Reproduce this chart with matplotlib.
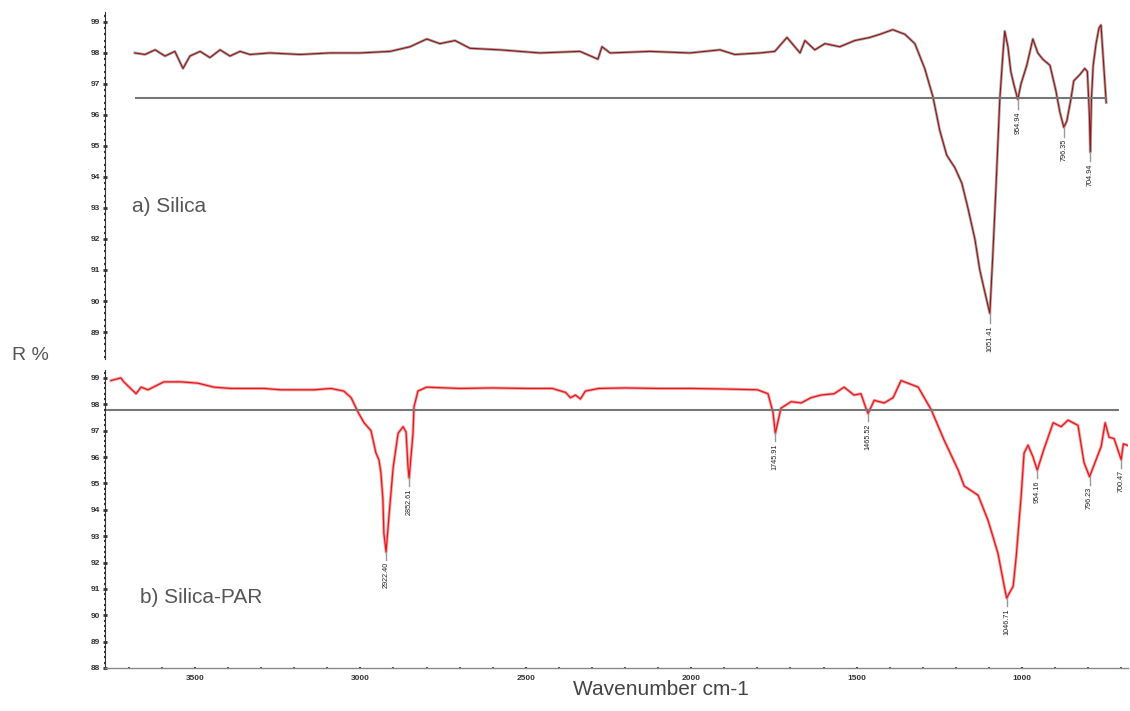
import matplotlib
matplotlib.use('Agg')
import matplotlib.pyplot as plt
from matplotlib.ticker import MultipleLocator

plt.rcParams['font.family'] = ['Liberation Sans', 'DejaVu Sans']

# a) Silica - wavenumber (cm-1) and R %
silica_wn = [4000, 3965, 3930, 3896, 3862, 3834, 3810, 3775, 3741, 3706, 3672,
             3637, 3603, 3534, 3430, 3327, 3224, 3120, 3051, 2993, 2948, 2896,
             2844, 2741, 2603, 2465, 2403, 2389, 2361, 2224, 2086, 1982, 1931,
             1844, 1793, 1751, 1724, 1706, 1689, 1655, 1620, 1569, 1517, 1465,
             1431, 1386, 1344, 1310, 1276, 1248, 1224, 1200, 1172, 1148, 1127,
             1103, 1086, 1069, 1051.41, 1041, 1031, 1017, 1006, 1000, 989, 979,
             969, 954.94, 944, 924, 903, 886, 869, 844, 824, 810, 796.35, 786,
             772, 762, 741, 724, 715, 708, 704.94, 701, 695, 685, 675, 668, 650]
silica_R = [98.0, 97.95, 98.1, 97.9, 98.05, 97.5, 97.9, 98.05, 97.85, 98.1, 97.9,
            98.05, 97.95, 98.0, 97.95, 98.0, 98.0, 98.05, 98.2, 98.45, 98.3, 98.4,
            98.15, 98.1, 98.0, 98.05, 97.8, 98.2, 98.0, 98.05, 98.0, 98.1, 97.95,
            98.0, 98.05, 98.5, 98.2, 98.0, 98.4, 98.1, 98.3, 98.2, 98.4, 98.5,
            98.6, 98.75, 98.6, 98.3, 97.5, 96.6, 95.5, 94.7, 94.3, 93.8, 93.0,
            92.0, 91.0, 90.3, 89.6, 91.5, 93.5, 96.5, 98.0, 98.7, 98.2, 97.4,
            97.0, 96.5, 97.0, 97.6, 98.45, 98.0, 97.8, 97.6, 96.8, 96.1, 95.6, 95.8,
            96.5, 97.1, 97.3, 97.5, 97.4, 96.0, 94.8, 96.5, 97.6, 98.3, 98.8, 98.9, 96.4]
silica_peaks = [1051.41, 954.94, 796.35, 704.94]
silica_baseline = 96.55

# b) Silica-PAR
par_wn = [3754, 3724, 3715, 3678, 3663, 3642, 3594, 3542, 3491, 3443, 3391,
          3340, 3291, 3240, 3189, 3140, 3089, 3050, 3028, 3007, 2989, 2968,
          2953, 2944, 2938, 2932, 2929, 2922.40, 2914, 2901, 2886, 2871, 2862,
          2856, 2852.61, 2841, 2838, 2826, 2800, 2700, 2600, 2500, 2420, 2380,
          2365, 2350, 2335, 2320, 2280, 2200, 2100, 2000, 1900, 1800, 1768,
          1753, 1745.91, 1735, 1729, 1698, 1668, 1638, 1608, 1568, 1538, 1508,
          1487, 1472, 1465.52, 1447, 1417, 1390, 1375, 1366, 1345, 1314, 1275,
          1236, 1193, 1175, 1133, 1103, 1073, 1054, 1046.71, 1027, 1018, 1003,
          994, 982, 967, 954.16, 934, 906, 882, 861, 831, 813, 796.23, 761,
          749, 737, 722, 700.47, 694, 671]
par_R = [98.9, 99.0, 98.85, 98.4, 98.65, 98.55, 98.85, 98.85, 98.8, 98.65, 98.6,
         98.6, 98.6, 98.55, 98.55, 98.55, 98.6, 98.5, 98.25, 97.7, 97.3, 97.0,
         96.15, 95.9, 95.4, 94.4, 93.1, 92.4, 93.7, 95.6, 96.9, 97.15, 96.95,
         95.6, 95.2, 96.9, 97.9, 98.5, 98.65, 98.6, 98.62, 98.6, 98.6, 98.45,
         98.25, 98.35, 98.2, 98.5, 98.6, 98.62, 98.6, 98.6, 98.58, 98.55, 98.4,
         97.7, 96.9, 97.5, 97.85, 98.1, 98.05, 98.25, 98.35, 98.4, 98.65, 98.35,
         98.4, 97.85, 97.65, 98.15, 98.05, 98.25, 98.65, 98.9, 98.8, 98.65, 97.8,
         96.65, 95.5, 94.9, 94.55, 93.6, 92.35, 91.1, 90.65, 91.1, 92.2, 94.5,
         96.15, 96.45, 96.0, 95.5, 96.3, 97.3, 97.15, 97.4, 97.2, 95.8, 95.25, 96.4,
         97.3, 96.75, 96.7, 95.9, 96.5, 96.4]
par_peaks = [2922.40, 2852.61, 1745.91, 1465.52, 1046.71, 954.16, 796.23, 700.47]
par_baseline = 97.77

fig = plt.figure(figsize=(11.3, 7.11), dpi=100)
ax_top = fig.add_axes([0.0929, 0.4951, 0.9053, 0.4880])
ax_bot = fig.add_axes([0.0929, 0.0605, 0.9053, 0.4191])


def style_axis(ax, show_x):
    for s in ['top', 'right']:
        ax.spines[s].set_visible(False)
    ax.spines['left'].set_color('#333333')
    ax.spines['left'].set_linewidth(0.8)
    ax.yaxis.set_major_locator(MultipleLocator(1))
    ax.yaxis.set_minor_locator(MultipleLocator(0.2))
    ax.tick_params(axis='y', which='major', length=3, width=2, direction='inout',
                   labelsize=6, colors='#333333', pad=2)
    ax.tick_params(axis='y', which='minor', length=2, width=1.6, direction='inout',
                   colors='#333333')
    if show_x:
        ax.spines['bottom'].set_color('#888888')
        ax.spines['bottom'].set_linewidth(1)
        ax.xaxis.set_major_locator(MultipleLocator(500))
        ax.xaxis.set_minor_locator(MultipleLocator(100))
        ax.tick_params(axis='x', which='major', length=2, width=1.5, direction='inout',
                       labelsize=6, colors='#333333', pad=4)
        ax.tick_params(axis='x', which='minor', length=2, width=1.5, direction='inout',
                       colors='#555555')
    else:
        ax.spines['bottom'].set_visible(False)
        ax.set_xticks([])
    for lab in ax.get_yticklabels() + ax.get_xticklabels():
        lab.set_fontweight('bold')


def label_peaks(ax, wn, R, peaks):
    for p in peaks:
        y = R[wn.index(p)]
        ax.plot([p, p], [y, y - 0.3], color='#999999', lw=1)
        ax.text(p, y - 0.38, f'{p:.2f}', rotation=90, ha='center', va='top',
                fontsize=5.2, color='#222222')


# top panel
ax_top.plot(silica_wn, silica_R, color='#a8a8a8', lw=2.0)
ax_top.plot(silica_wn, silica_R, color='#9b1111', lw=0.8)
ax_top.hlines(silica_baseline, silica_wn[0], silica_wn[-1], color='#777777', lw=1.5)
label_peaks(ax_top, silica_wn, silica_R, silica_peaks)
ax_top.set_xlim(4103, 575)
ax_top.set_ylim(88.13, 99.32)
style_axis(ax_top, False)

# bottom panel
ax_bot.plot(par_wn, par_R, color='#f5a5a5', lw=2.2)
ax_bot.plot(par_wn, par_R, color='#e3171c', lw=0.9)
ax_bot.hlines(par_baseline, 3772, 707, color='#777777', lw=1.5)
label_peaks(ax_bot, par_wn, par_R, par_peaks)
ax_bot.set_xlim(3772, 680)
ax_bot.set_ylim(88, 99.3)
style_axis(ax_bot, True)

fig.text(0.117, 0.709, 'a) Silica', fontsize=15, color='#555555', va='center')
fig.text(0.124, 0.159, 'b) Silica-PAR', fontsize=15, color='#555555', va='center')
fig.text(0.011, 0.5007, 'R %', fontsize=14, color='#555555', va='center')
fig.text(0.585, 0.03, 'Wavenumber cm-1', fontsize=15, color='#444444',
         ha='center', va='center')

fig.savefig('out.png', dpi=100)
